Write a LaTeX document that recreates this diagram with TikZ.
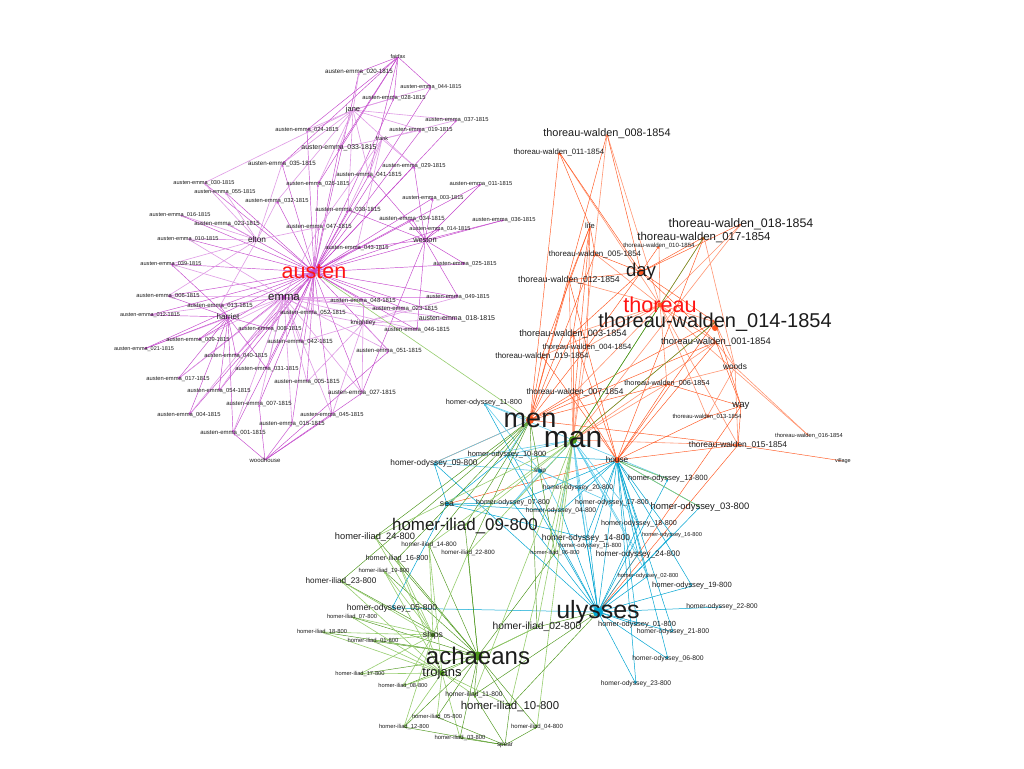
\documentclass[tikz,border=0pt]{standalone}
\usepackage{fontspec}
\setmainfont{Liberation Sans}
\usetikzlibrary{arrows.meta,backgrounds}
\definecolor{txt}{RGB}{28,28,28}
\definecolor{hubred}{RGB}{255,20,20}
\definecolor{apur}{RGB}{196,70,204}
\definecolor{apurl}{RGB}{224,155,230}
\definecolor{tor}{RGB}{255,85,30}
\definecolor{torl}{RGB}{255,150,115}
\definecolor{cy}{RGB}{0,165,210}
\definecolor{cyl}{RGB}{100,205,235}
\definecolor{gr}{RGB}{75,150,25}
\definecolor{grl}{RGB}{150,205,110}
\newcommand\aem[1]{austen-emma\_#1-1815}
\newcommand\twd[1]{thoreau-walden\_#1-1854}
\newcommand\hod[1]{homer-odyssey\_#1-800}
\newcommand\hil[1]{homer-iliad\_#1-800}
\newcommand\mk[5]{\node[lbl=#4] (#1) at (#2,#3) {#5};}
\tikzset{
  lbl/.style={font=\fontsize{#1}{#1}\selectfont, text=txt, inner sep=0pt},
  tip/.style={-{Stealth[length=3pt,width=2pt]}},
  eA/.style={draw=apur, line width=0.45pt, tip},
  eAl/.style={draw=apurl, line width=0.6pt, tip},
  eT/.style={draw=tor, line width=0.45pt, tip},
  eTl/.style={draw=torl, line width=0.6pt, tip},
  eC/.style={draw=cy, line width=0.5pt, tip},
  eCl/.style={draw=cyl, line width=0.6pt, tip},
  eG/.style={draw=gr, line width=0.45pt, tip},
  eGl/.style={draw=grl, line width=0.6pt, tip},
}
\begin{document}
\begin{tikzpicture}[x=1pt,y=-1pt]
\useasboundingbox (0,0) rectangle (1024,768);
% ---------------- Austen ----------------
\mk{fairfax}{398}{57}{5.5}{fairfax}
\mk{ae020}{359}{72}{6.2}{\aem{020}}
\mk{ae044}{431}{87}{5.6}{\aem{044}}
\mk{ae028}{394}{98}{5.8}{\aem{028}}
\mk{jane}{353}{110}{7.5}{jane}
\mk{ae037}{457}{120}{5.8}{\aem{037}}
\mk{ae024}{307}{130}{5.8}{\aem{024}}
\mk{ae019}{421}{130}{5.8}{\aem{019}}
\mk{frank}{382}{139}{5.5}{frank}
\mk{ae033}{339}{148}{6.9}{\aem{033}}
\mk{ae035}{282}{164}{6.2}{\aem{035}}
\mk{ae029}{414}{166}{5.8}{\aem{029}}
\mk{ae041}{369}{175}{6.0}{\aem{041}}
\mk{ae030}{204}{183}{5.6}{\aem{030}}
\mk{ae026}{318}{184}{5.8}{\aem{026}}
\mk{ae011}{481}{184}{5.8}{\aem{011}}
\mk{ae055}{225}{192}{5.6}{\aem{055}}
\mk{ae032}{277}{201}{5.8}{\aem{032}}
\mk{ae003}{433}{198}{5.6}{\aem{003}}
\mk{ae038}{348}{210}{6.0}{\aem{038}}
\mk{ae016}{180}{215}{5.6}{\aem{016}}
\mk{ae034}{412}{219}{6.0}{\aem{034}}
\mk{ae036}{504}{220}{5.8}{\aem{036}}
\mk{ae023}{227}{224}{6.0}{\aem{023}}
\mk{ae047}{319}{227}{6.0}{\aem{047}}
\mk{ae014}{440}{229}{5.6}{\aem{014}}
\mk{ae010}{188}{239}{5.6}{\aem{010}}
\mk{elton}{257}{240}{8.3}{elton}
\mk{weston}{425}{240}{7.4}{weston}
\mk{ae043}{357}{248}{5.8}{\aem{043}}
\mk{ae039}{171}{264}{5.6}{\aem{039}}
\mk{ae025}{465}{264}{5.8}{\aem{025}}
\node[lbl=21.5, text=hubred] (austen) at (314,272) {austen};
\mk{ae006}{168}{296}{5.8}{\aem{006}}
\mk{emma}{284}{297}{11.4}{emma}
\mk{ae049}{458}{297}{5.8}{\aem{049}}
\mk{ae048}{363}{301}{6.0}{\aem{048}}
\mk{ae013}{220}{306}{6.0}{\aem{013}}
\mk{ae023b}{405}{309}{6.0}{\aem{023}}
\mk{ae012}{150}{315}{5.5}{\aem{012}}
\mk{harriet}{228}{317}{8}{harriet}
\mk{ae052}{313}{313}{6.0}{\aem{052}}
\mk{ae018}{457}{319}{7.0}{\aem{018}}
\mk{knightley}{363}{323}{6.3}{knightley}
\mk{ae008}{270}{329}{5.8}{\aem{008}}
\mk{ae046}{417}{330}{6.0}{\aem{046}}
\mk{ae009}{198}{340}{5.8}{\aem{009}}
\mk{ae042}{300}{342}{6.0}{\aem{042}}
\mk{ae021}{144}{349}{5.5}{\aem{021}}
\mk{ae051}{389}{351}{6.0}{\aem{051}}
\mk{ae040}{236}{356}{5.8}{\aem{040}}
\mk{ae031}{267}{369}{5.8}{\aem{031}}
\mk{ae017}{178}{379}{5.8}{\aem{017}}
\mk{ae005}{307}{382}{6.0}{\aem{005}}
\mk{ae054}{219}{391}{5.8}{\aem{054}}
\mk{ae027}{362}{393}{6.2}{\aem{027}}
\mk{ae007}{259}{404}{6.0}{\aem{007}}
\mk{ae004}{189}{415}{5.8}{\aem{004}}
\mk{ae045}{332}{415}{5.8}{\aem{045}}
\mk{ae015}{292}{424}{6.0}{\aem{015}}
\mk{ae001}{233}{433}{6.0}{\aem{001}}
\mk{woodhouse}{265}{460}{6.0}{woodhouse}
% ---------------- Thoreau ----------------
\mk{tw008}{607}{134}{10.9}{\twd{008}}
\mk{tw011}{559}{152}{7.8}{\twd{011}}
\mk{tw018}{741}{224}{12.4}{\twd{018}}
\mk{life}{590}{226}{7.5}{life}
\mk{tw017}{704}{237}{11.4}{\twd{017}}
\mk{tw010}{659}{246}{6.1}{\twd{010}}
\mk{tw005}{595}{254}{7.9}{\twd{005}}
\mk{day}{641}{272}{18.6}{day}
\mk{tw012}{569}{280}{8.7}{\twd{012}}
\node[lbl=21.6, text=hubred] (thoreau) at (660,305) {thoreau};
\mk{tw014}{715}{322}{20}{\twd{014}}
\mk{tw003}{573}{334}{9.2}{\twd{003}}
\mk{tw001}{716}{342}{9.4}{\twd{001}}
\mk{tw004}{587}{347}{7.6}{\twd{004}}
\mk{tw019}{542}{356}{8}{\twd{019}}
\mk{woods}{735}{367}{8.3}{woods}
\mk{tw006}{667}{384}{7.3}{\twd{006}}
\mk{tw007}{575}{392}{8.3}{\twd{007}}
\mk{way}{741}{406}{9.6}{way}
\mk{tw013}{707}{417}{5.9}{\twd{013}}
\mk{men}{530}{420}{27}{men}
\mk{tw016}{809}{436}{5.8}{\twd{016}}
\mk{man}{573}{440}{30}{man}
\mk{tw015}{738}{445}{8.4}{\twd{015}}
\mk{house}{617}{460}{8.2}{house}
\mk{village}{843}{461}{5.5}{village}
% ---------------- Homer ----------------
\mk{ho11}{484}{403}{7.3}{\hod{11}}
\mk{ho10}{507}{455}{7.5}{\hod{10}}
\mk{ho09}{434}{463}{8.3}{\hod{09}}
\mk{ship}{540}{471}{6.4}{ship}
\mk{ho13}{668}{479}{7.6}{\hod{13}}
\mk{ho20}{578}{488}{6.7}{\hod{20}}
\mk{ho07}{513}{503}{7}{\hod{07}}
\mk{ho17}{612}{503}{7}{\hod{17}}
\mk{sea}{447}{504}{8.7}{sea}
\mk{ho03}{700}{507}{9.4}{\hod{03}}
\mk{ho04}{561}{511}{6.7}{\hod{04}}
\mk{ho18}{639}{524}{7.2}{\hod{18}}
\mk{hi09}{465}{526}{16.9}{\hil{09}}
\mk{ho16}{672}{535}{5.7}{\hod{16}}
\mk{hi24}{375}{537}{9.3}{\hil{24}}
\mk{ho14}{586}{538}{8.4}{\hod{14}}
\mk{hi14}{429}{545}{6.4}{\hil{14}}
\mk{ho15}{590}{546}{6}{\hod{15}}
\mk{hi22}{468}{553}{6.2}{\hil{22}}
\mk{hi06}{555}{553}{5.7}{\hil{06}}
\mk{ho24}{638}{554}{8}{\hod{24}}
\mk{hi16}{397}{559}{7.3}{\hil{16}}
\mk{hi19}{384}{571}{5.9}{\hil{19}}
\mk{ho02}{648}{576}{5.8}{\hod{02}}
\mk{hi23}{341}{581}{8.2}{\hil{23}}
\mk{ho19}{692}{586}{7.6}{\hod{19}}
\mk{ulysses}{598}{612}{25}{ulysses}
\mk{ho22}{722}{607}{6.8}{\hod{22}}
\mk{ho05}{392}{608}{8.6}{\hod{05}}
\mk{hi07}{352}{617}{5.8}{\hil{07}}
\mk{ho01}{637}{625}{7.4}{\hod{01}}
\mk{hi02}{537}{627}{10.3}{\hil{02}}
\mk{hi18}{322}{632}{5.8}{\hil{18}}
\mk{ho21}{673}{632}{6.9}{\hod{21}}
\mk{ships}{433}{635}{8.6}{ships}
\mk{hi01}{373}{641}{5.9}{\hil{01}}
\mk{achaeans}{478}{656}{24}{achaeans}
\mk{ho06}{668}{659}{6.8}{\hod{06}}
\mk{trojans}{442}{673}{13}{trojans}
\mk{hi17}{360}{674}{5.7}{\hil{17}}
\mk{ho23}{636}{684}{6.7}{\hod{23}}
\mk{hi08}{403}{686}{5.7}{\hil{08}}
\mk{hi11}{474}{695}{6.7}{\hil{11}}
\mk{hi10}{510}{706}{11.4}{\hil{10}}
\mk{hi05}{437}{717}{5.8}{\hil{05}}
\mk{hi04}{537}{727}{6}{\hil{04}}
\mk{hi12}{404}{727}{5.8}{\hil{12}}
\mk{hi03}{460}{738}{5.9}{\hil{03}}
\mk{spear}{505}{745}{6.4}{spear}

\begin{pgfonlayer}{background}
\fill[white] (0,0) rectangle (1024,768);
% Austen edges
\foreach \t in {ae001,ae003,ae004,ae005,ae006,ae007,ae008,ae009,ae010,ae011,ae012,ae013,ae014,ae015,ae016,ae017,ae018,ae019,ae020,ae021,ae023,ae023b,ae024,ae025,ae026,ae027,ae028,ae029,ae030,ae031,ae032,ae033,ae034,ae035,ae036,ae037,ae038,ae039,ae040,ae041,ae042,ae043,ae044,ae045,ae046,ae047,ae048,ae049,ae051,ae052,ae054,ae055}
  \draw[eA] (austen.center) -- (\t.center);
\foreach \t in {ae006,ae013,ae012,ae021,ae009,ae040,ae017,ae054,ae004,ae001,ae007,ae031,ae015,ae005,ae042,ae008,ae052,ae048,ae045,ae027,ae051,ae046,ae018,ae049,ae039,ae010,ae047,ae043,ae023b}
  \draw[eAl] (emma.center) -- (\t.center);
\foreach \t in {ae020,ae024,ae037,ae019,ae033,ae035,ae026,ae041,ae032,ae038,ae029,ae044,ae028,ae030}
  \draw[eAl] (jane.center) -- (\t.center);
\foreach \t in {ae020,ae028,ae044,ae024,ae033,ae026,ae041,ae035}
  \draw[eA] (fairfax.center) -- (\t.center);
\foreach \t in {ae019,ae037,ae041,ae029,ae038,ae043,ae033,ae047}
  \draw[eAl] (frank.center) -- (\t.center);
\foreach \t in {ae016,ae010,ae023,ae055,ae030,ae039,ae032,ae013,ae006,ae035,ae047}
  \draw[eAl] (elton.center) -- (\t.center);
\foreach \t in {ae003,ae034,ae014,ae036,ae011,ae025,ae029,ae043,ae049,ae046,ae027,ae038,ae041}
  \draw[eA] (weston.center) -- (\t.center);
\foreach \t in {ae012,ae021,ae013,ae009,ae006,ae040,ae017,ae054,ae004,ae001,ae031,ae008,ae039}
  \draw[eA] (harriet.center) -- (\t.center);
\foreach \t in {ae048,ae049,ae046,ae051,ae045,ae027,ae005,ae052,ae042,ae018,ae023b}
  \draw[eAl] (knightley.center) -- (\t.center);
\foreach \t in {ae015,ae027,ae045,ae001,ae051,ae007}
  \draw[eA] (woodhouse.center) -- (\t.center);
% Thoreau edges
\foreach \t in {tw001,tw003,tw004,tw005,tw006,tw007,tw008,tw010,tw011,tw012,tw013,tw014,tw015,tw016,tw017,tw018,tw019}
  \draw[eTl] (thoreau.center) -- (\t.center);
\foreach \t in {tw008,tw011,tw005,tw012,tw017,tw018,tw010,tw003,tw004,tw014,tw001}
  \draw[eT] (day.center) -- (\t.center);
\foreach \t in {tw011,tw005,tw012,tw003,tw019,tw007,tw004}
  \draw[eT] (life.center) -- (\t.center);
\foreach \t in {tw001,tw014,tw006,tw016,tw015,tw013,tw017}
  \draw[eTl] (woods.center) -- (\t.center);
\foreach \t in {tw013,tw015,tw001,tw006,tw014}
  \draw[eT] (way.center) -- (\t.center);
\foreach \t in {tw003,tw004,tw019,tw007,tw012,tw005,tw006,tw008,tw011,tw014,tw001,tw015}
  \draw[eT] (men.center) -- (\t.center);
\foreach \t in {tw007,tw003,tw004,tw008,tw018,tw014,tw001,tw015,tw012,tw006}
  \draw[eTl] (man.center) -- (\t.center);
\foreach \t in {tw006,tw007,tw014,tw001,tw015,tw003,tw019,tw012,tw013,tw017}
  \draw[eT] (house.center) -- (\t.center);
\draw[eT] (village.center) -- (tw015.center);
\draw[eT] (ulysses.center) -- (way.center);
\draw[eT] (ulysses.center) -- (tw015.center);
\draw[eT] (men.center) -- (ho09.center);
\draw[eT] (house.center) -- (sea.center);
% Odyssey edges
\foreach \t in {ho01,ho02,ho03,ho04,ho05,ho06,ho07,ho09,ho10,ho11,ho13,ho14,ho15,ho16,ho17,ho18,ho19,ho20,ho21,ho22,ho23,ho24}
  \draw[eC] (ulysses.center) -- (\t.center);
\foreach \t in {ho13,ho03,ho17,ho18,ho16,ho14,ho15,ho24,ho02,ho19,ho20,ho04,ho07,ho10,ho21,ho01,ho06,ho23}
  \draw[eC] (house.center) -- (\t.center);
\foreach \t in {ho11,ho10,ho09,ho07,ho04,ho20,ho14,ho15,ho24,ho13,ho17,ho18,ho02}
  \draw[eCl] (man.center) -- (\t.center);
\foreach \t in {ho11,ho10,ho09}
  \draw[eCl] (men.center) -- (\t.center);
\foreach \t in {ho09,ho07,ho05,ho10,ho04,ho14}
  \draw[eC] (sea.center) -- (\t.center);
\foreach \t in {ho10,ho20,ho07,ho04,ho09,ho11,ho17}
  \draw[eCl] (ship.center) -- (\t.center);
% Iliad edges
\foreach \t in {hi01,hi02,hi03,hi04,hi05,hi06,hi07,hi08,hi09,hi10,hi11,hi12,hi14,hi16,hi17,hi18,hi19,hi22,hi23,hi24}
  \draw[eG] (achaeans.center) -- (\t.center);
\foreach \t in {hi01,hi07,hi18,hi17,hi08,hi12,hi05,hi03,hi11,hi19,hi16,hi14,hi23,hi10,hi02}
  \draw[eGl] (trojans.center) -- (\t.center);
\foreach \t in {hi07,hi18,hi01,hi19,hi16,hi23,hi24,hi14,hi08,hi17,hi12,hi22}
  \draw[eGl] (ships.center) -- (\t.center);
\foreach \t in {hi04,hi10,hi03,hi11,hi05,hi12}
  \draw[eG] (spear.center) -- (\t.center);
\foreach \t in {hi09,hi24,hi23,hi14,hi22,hi02,hi06,hi16}
  \draw[eG] (men.center) -- (\t.center);
\foreach \t in {hi09,hi02,hi06,hi22,hi10,hi04,hi11,hi24,hi14}
  \draw[eGl] (man.center) -- (\t.center);
\foreach \t in {hi02,hi10,hi11}
  \draw[eG] (ulysses.center) -- (\t.center);
% cross links
\draw[eGl] (austen.center) -- (men.center);
\draw[eG] (thoreau.center) -- (man.center);
\draw[eG] (tw017.center) -- (man.center);
\draw[eG] (tw014.center) -- (man.center);
\draw[eGl] (house.center) -- (ho03.center);
\draw[eGl] (house.center) -- (ho13.center);
% hub dots
\fill[apur] (austen.center) circle (2.5);
\fill[apur] (emma.center) circle (2);
\fill[tor] (men.center) circle (4);
\fill[gr] (man.center) circle (4);
\fill[tor] (day.center) circle (3);
\fill[tor] (thoreau.center) circle (2.5);
\fill[tor] ([yshift=-6pt]tw014.center) circle (3);
\fill[tor] (house.center) circle (3);
\fill[cy] (ulysses.center) circle (5);
\fill[gr] (achaeans.center) circle (4.5);
\fill[gr] (trojans.center) circle (2.5);
\fill[gr] (ships.center) circle (2);
\fill[cy] (sea.center) circle (2);
\fill[cy] (ship.center) circle (2);
\end{pgfonlayer}
\end{tikzpicture}
\end{document}
